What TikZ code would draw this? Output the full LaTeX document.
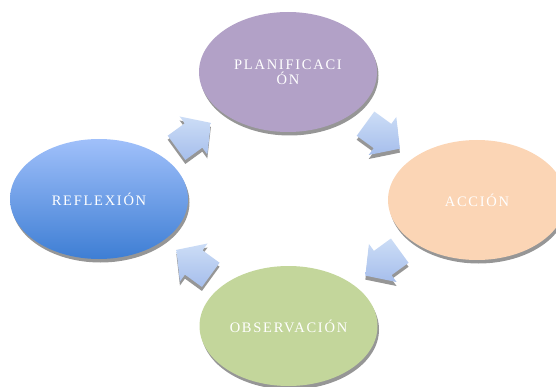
\documentclass[tikz,border=0pt]{standalone}
\usepackage{fontspec}
\usetikzlibrary{shapes.geometric,calc}
\newfontfamily\lblfont{Liberation Serif}[LetterSpace=12]

\definecolor{planfill}{RGB}{178,161,199}
\definecolor{accfill}{RGB}{251,213,181}
\definecolor{obsfill}{RGB}{195,214,155}
\definecolor{reftop}{RGB}{160,192,250}
\definecolor{refbot}{RGB}{62,126,212}
\definecolor{arrtop}{RGB}{204,221,246}
\definecolor{arrbot}{RGB}{166,190,236}
\definecolor{shadowgray}{RGB}{150,150,150}

\tikzset{
  phase/.style={ellipse, minimum width=178pt, minimum height=120pt, inner sep=0pt,
    text=white, align=center, font=\lblfont\fontsize{14.5}{15}\selectfont},
  phaseshadow/.style={ellipse, minimum width=178pt, minimum height=120pt, inner sep=0pt,
    fill=shadowgray},
  cyclearrow/.style={top color=arrtop, bottom color=arrbot, draw=none},
  arrowshadow/.style={fill=shadowgray, draw=none}
}

% block arrow drawn along the local x axis, head base at the origin
\newcommand{\blockarrowpath}{(-21,-15) -- (0,-15) -- (0,-23.5) -- (21.5,0)
  -- (0,23.5) -- (0,15) -- (-21,15) -- cycle}

\begin{document}
\begin{tikzpicture}[x=1pt,y=-1pt]
\useasboundingbox (0,0) rectangle (556,387);
\clip (0,0) rectangle (556,387);

% positions of the four phases
\coordinate (cplan) at (288,72);
\coordinate (cacc)  at (477,200);
\coordinate (cobs)  at (288.5,326);
\coordinate (cref)  at (99,199);

% shadows of the phases
\node[phaseshadow] (plansh) at ($(cplan)+(1.5,3.5)$) {};
\node[phaseshadow] (accsh)  at ($(cacc)+(1.5,3.5)$) {};
\node[phaseshadow] (obssh)  at ($(cobs)+(1.5,3.5)$) {};
\node[phaseshadow] (refsh)  at ($(cref)+(1.5,3.5)$) {};

% the phases
\node[phase, fill=planfill] (plan) at (cplan) {PLANIFICACI\\ÓN};
\node[phase, fill=accfill]  (acc)  at (cacc)  {ACCIÓN};
\node[phase, fill=obsfill]  (obs)  at (cobs)  {OBSERVACIÓN};
\node[phase, top color=reftop, bottom color=refbot] (ref) at (cref) {REFLEXIÓN};

% arrows of the cycle, with their shadows
\foreach \a/\b/\ang in {ref/plan/36, plan/acc/-36, acc/obs/-144, obs/ref/144}{
  \begin{scope}[shift={($($(\a.center)!0.5!(\b.center)$)+(0,4)$)}, rotate=\ang]
    \path[arrowshadow] \blockarrowpath;
  \end{scope}
  \begin{scope}[shift={($(\a.center)!0.5!(\b.center)$)}, rotate=\ang]
    \path[cyclearrow] \blockarrowpath;
  \end{scope}
}
\end{tikzpicture}
\end{document}
